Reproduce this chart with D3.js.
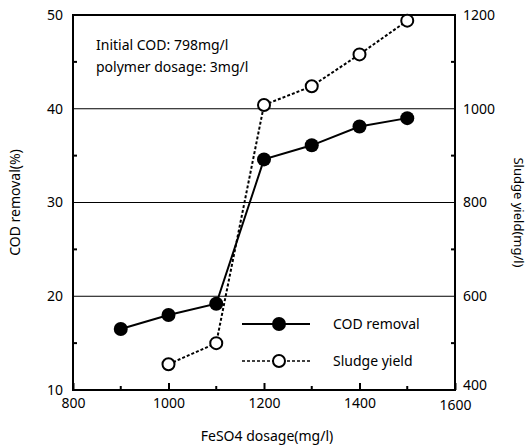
<!DOCTYPE html>
<html>
<head>
<meta charset="utf-8">
<script src="https://cdn.jsdelivr.net/npm/d3@7"></script>
<style>
  body { margin: 0; background: #fff; }
  text { font-family: "Noto Sans", "DejaVu Sans", sans-serif; fill: #000; }
</style>
</head>
<body>
<div id="chart"></div>
<script>
// data
const dosage = [900, 1000, 1100, 1200, 1300, 1400, 1500];
const codRemoval = [16.5, 18.0, 19.2, 34.6, 36.1, 38.1, 39.0];
const sludgeDosage = [1000, 1100, 1200, 1300, 1400, 1500];
const sludgeYield = [455, 500, 1008, 1048, 1116, 1188];
const xTicks = [800, 1000, 1200, 1400, 1600];
const yTicks = [10, 20, 30, 40, 50];
const y2Ticks = [400, 600, 800, 1000, 1200];

const width = 530, height = 448,
      margin = { top: 15, right: 75, bottom: 58, left: 73 };

const svg = d3.select("#chart").append("svg")
    .attr("width", width)
    .attr("height", height);

const x = d3.scaleLinear().domain([800, 1600]).range([margin.left, width - margin.right]);
const y = d3.scaleLinear().domain([10, 50]).range([height - margin.bottom, margin.top]);
const y2 = d3.scaleLinear().domain([400, 1200]).range([height - margin.bottom, margin.top]);

// horizontal grid lines
svg.append("g")
  .selectAll("line")
  .data(yTicks.slice(1, -1))
  .join("line")
    .attr("x1", x(800)).attr("x2", x(1600))
    .attr("y1", d => y(d)).attr("y2", d => y(d))
    .attr("stroke", "#000").attr("stroke-width", 1);

// frame
svg.append("rect")
    .attr("x", x(800)).attr("y", y(50))
    .attr("width", x(1600) - x(800)).attr("height", y(10) - y(50))
    .attr("fill", "none").attr("stroke", "#000").attr("stroke-width", 2);

// axes, ticks pointing inward
const xAxis = svg.append("g")
    .attr("transform", `translate(0,${y(10)})`)
    .call(d3.axisBottom(x).tickValues(xTicks).tickSize(-7).tickPadding(8).tickFormat(d3.format("d")));
xAxis.append("g").selectAll("line")
  .data(d3.range(900, 1600, 200))
  .join("line")
    .attr("x1", d => x(d)).attr("x2", d => x(d))
    .attr("y1", 0).attr("y2", -4).attr("stroke", "#000").attr("stroke-width", 2);

const yAxis = svg.append("g")
    .attr("transform", `translate(${x(800)},0)`)
    .call(d3.axisLeft(y).tickValues(yTicks).tickSize(0).tickPadding(10));
yAxis.append("g").selectAll("line")
  .data([15, 25, 35, 45])
  .join("line")
    .attr("x1", 0).attr("x2", 4)
    .attr("y1", d => y(d)).attr("y2", d => y(d)).attr("stroke", "#000").attr("stroke-width", 2);

const y2Axis = svg.append("g")
    .attr("transform", `translate(${x(1600)},0)`)
    .call(d3.axisRight(y2).tickValues(y2Ticks).tickSize(0).tickPadding(8).tickFormat(d3.format("d")));
y2Axis.append("g").selectAll("line")
  .data([500, 700, 900, 1100])
  .join("line")
    .attr("x1", 0).attr("x2", -4)
    .attr("y1", d => y2(d)).attr("y2", d => y2(d)).attr("stroke", "#000").attr("stroke-width", 2);

[xAxis, yAxis, y2Axis].forEach(a => {
  a.select(".domain").remove();
  a.selectAll(".tick line").attr("stroke-width", 2);
  a.selectAll("text").style("font-size", "14px").style("font-family", '"Noto Sans", sans-serif');
});
// lift the bottom right label a little so it clears "1600"
y2Axis.selectAll(".tick text").filter(d => d === 400).attr("dy", "-0.05em");
xAxis.selectAll(".tick text").filter(d => d === 1600).attr("dy", "0.85em");

// series
const codPts = dosage.map((d, i) => [d, codRemoval[i]]);
const sludgePts = sludgeDosage.map((d, i) => [d, sludgeYield[i]]);

svg.append("path")
    .datum(sludgePts)
    .attr("fill", "none").attr("stroke", "#000").attr("stroke-width", 2)
    .attr("stroke-dasharray", "3,2")
    .attr("d", d3.line().x(d => x(d[0])).y(d => y2(d[1])));

svg.append("path")
    .datum(codPts)
    .attr("fill", "none").attr("stroke", "#000").attr("stroke-width", 2)
    .attr("d", d3.line().x(d => x(d[0])).y(d => y(d[1])));

svg.append("g").selectAll("circle")
  .data(sludgePts)
  .join("circle")
    .attr("cx", d => x(d[0])).attr("cy", d => y2(d[1])).attr("r", 6)
    .attr("fill", "#fff").attr("stroke", "#000").attr("stroke-width", 2);

svg.append("g").selectAll("circle")
  .data(codPts)
  .join("circle")
    .attr("cx", d => x(d[0])).attr("cy", d => y(d[1])).attr("r", 7)
    .attr("fill", "#000");

// legend
const legend = svg.append("g");
legend.append("line").attr("x1", 242).attr("x2", 310).attr("y1", 324).attr("y2", 324)
    .attr("stroke", "#000").attr("stroke-width", 2);
legend.append("circle").attr("cx", 279).attr("cy", 324).attr("r", 7).attr("fill", "#000");
legend.append("line").attr("x1", 242).attr("x2", 310).attr("y1", 361).attr("y2", 361)
    .attr("stroke", "#000").attr("stroke-width", 1.5).attr("stroke-dasharray", "3,2");
legend.append("circle").attr("cx", 279).attr("cy", 361).attr("r", 6)
    .attr("fill", "#fff").attr("stroke", "#000").attr("stroke-width", 2);
legend.append("text").attr("x", 333).attr("y", 329).style("font-size", "14px").text("COD removal");
legend.append("text").attr("x", 333).attr("y", 366).style("font-size", "14px").text("Sludge yield");

// annotation
svg.append("text").attr("x", 96).attr("y", 50).style("font-size", "14px").text("Initial COD: 798mg/l");
svg.append("text").attr("x", 96).attr("y", 72).style("font-size", "14px").text("polymer dosage: 3mg/l");

// axis titles
svg.append("text")
    .attr("x", 267).attr("y", 441)
    .attr("text-anchor", "middle")
    .style("font-size", "14px")
    .text("FeSO4 dosage(mg/l)");

svg.append("text")
    .attr("transform", `translate(20,${(y(10) + y(50)) / 2}) rotate(-90)`)
    .attr("text-anchor", "middle")
    .style("font-size", "14px")
    .text("COD removal(%)");

svg.append("text")
    .attr("transform", `translate(514,${(y(10) + y(50)) / 2 + 10}) rotate(90)`)
    .attr("text-anchor", "middle")
    .style("font-size", "13px")
    .text("Sludge yield(mg/l)");
</script>
</body>
</html>
